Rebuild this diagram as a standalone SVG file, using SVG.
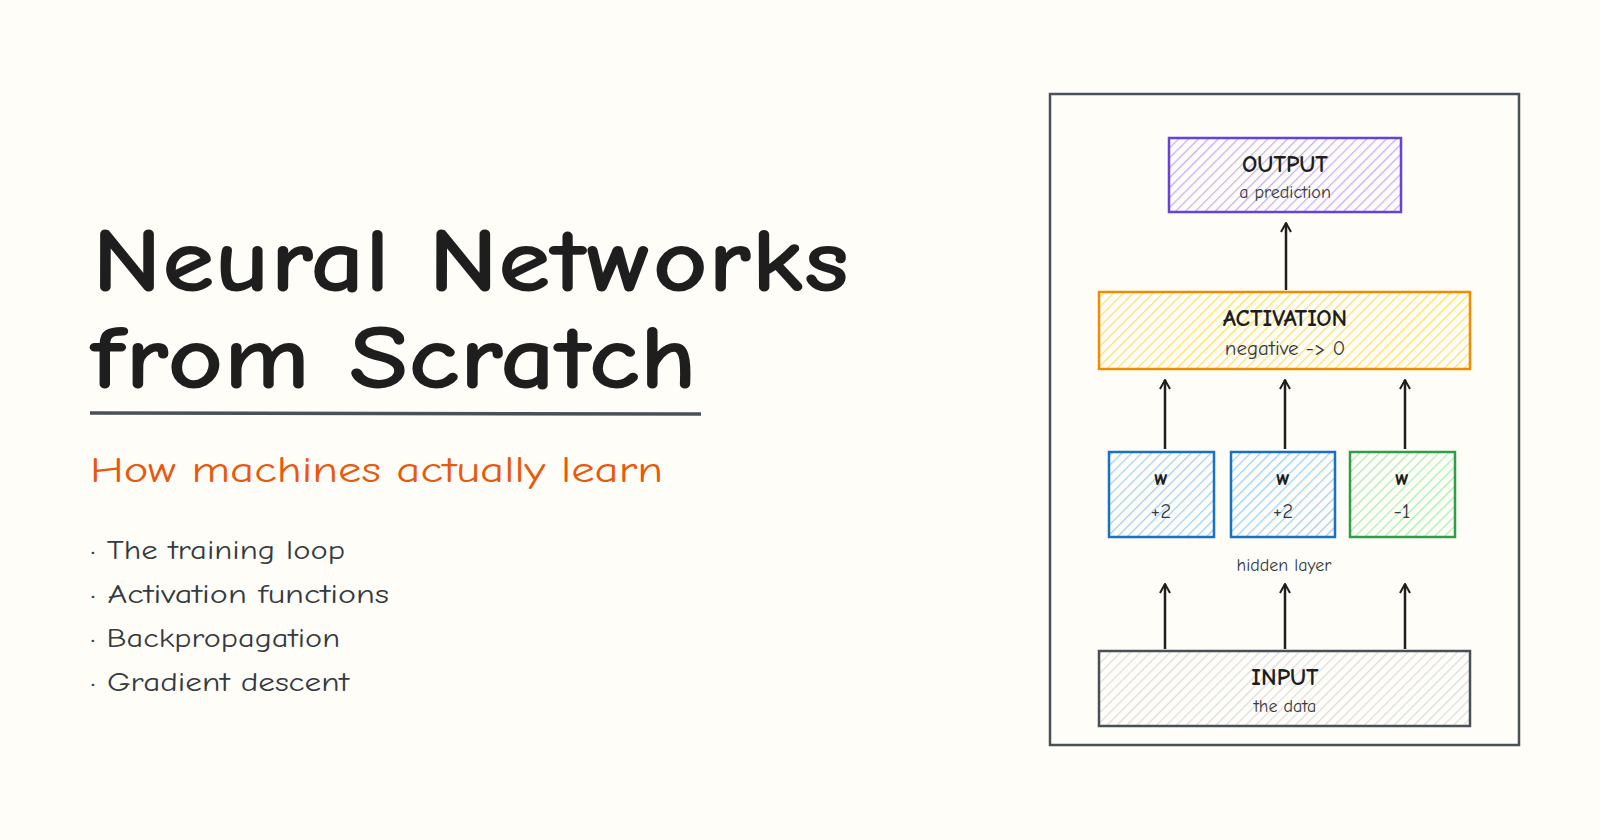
<svg xmlns="http://www.w3.org/2000/svg" width="1600" height="840" viewBox="0 0 1600 840">
<defs>
<pattern id="hp" width="7" height="7" patternUnits="userSpaceOnUse" patternTransform="rotate(45)"><line x1="0" y1="0" x2="0" y2="7" stroke="#c4adff" stroke-width="2.5"/></pattern>
<pattern id="ho" width="7" height="7" patternUnits="userSpaceOnUse" patternTransform="rotate(45)"><line x1="0" y1="0" x2="0" y2="7" stroke="#ffe066" stroke-width="2.5"/></pattern>
<pattern id="hb" width="7" height="7" patternUnits="userSpaceOnUse" patternTransform="rotate(45)"><line x1="0" y1="0" x2="0" y2="7" stroke="#99d0ff" stroke-width="2.5"/></pattern>
<pattern id="hg" width="7" height="7" patternUnits="userSpaceOnUse" patternTransform="rotate(45)"><line x1="0" y1="0" x2="0" y2="7" stroke="#a6eeb0" stroke-width="2.5"/></pattern>
<pattern id="hn" width="7" height="7" patternUnits="userSpaceOnUse" patternTransform="rotate(45)"><line x1="0" y1="0" x2="0" y2="7" stroke="#dadde0" stroke-width="2.5"/></pattern>
<marker id="ar" viewBox="0 0 12 12" refX="11" refY="6" markerWidth="12" markerHeight="12" markerUnits="userSpaceOnUse" orient="auto"><path d="M2 1 L11 6 L2 11" fill="none" stroke="#1e1e1e" stroke-width="2"/></marker>
</defs>
<style>
text{font-family:"Comic Neue","Noto Sans","Liberation Sans",sans-serif;fill:#1e1e1e}
.t{font-size:92px;font-weight:bold}
.h{font-size:24px;font-weight:bold;text-anchor:middle}
.w{font-size:22px;font-weight:bold;text-anchor:middle}
.s{font-size:18px;text-anchor:middle;fill:#343a40}
.n{font-size:21px;text-anchor:middle;fill:#343a40}
.b{font-size:26px;fill:#343a40}
.c{stroke:#1e1e1e;stroke-width:2.5;fill:none}
</style>
<rect width="1600" height="840" fill="#fffdf8"/>
<g id="title">
<text class="t" x="92" y="291" textLength="757" lengthAdjust="spacingAndGlyphs">Neural Networks</text>
<text class="t" x="90" y="388" textLength="607" lengthAdjust="spacingAndGlyphs">from Scratch</text>
<line x1="90" y1="413" x2="701" y2="414" stroke="#495057" stroke-width="3.5"/>
<text x="90" y="482" font-size="37" style="fill:#e8590c" textLength="573" lengthAdjust="spacingAndGlyphs">How machines actually learn</text>
</g>
<g id="bullets">
<text class="b" x="90" y="559" textLength="255" lengthAdjust="spacingAndGlyphs">· The training loop</text>
<text class="b" x="90" y="603" textLength="299" lengthAdjust="spacingAndGlyphs">· Activation functions</text>
<text class="b" x="90" y="647" textLength="250" lengthAdjust="spacingAndGlyphs">· Backpropagation</text>
<text class="b" x="90" y="691" textLength="259" lengthAdjust="spacingAndGlyphs">· Gradient descent</text>
</g>
<rect id="frame" x="1050" y="94" width="469" height="651" fill="none" stroke="#495057" stroke-width="2.5"/>
<g id="output"><rect x="1169" y="138" width="232" height="74" fill="url(#hp)" stroke="#6741d9" stroke-width="2.5"/>
<text class="h" x="1285" y="172">OUTPUT</text><text class="s" x="1285" y="198">a prediction</text></g>
<g id="activation"><rect x="1099" y="292" width="371" height="77" fill="url(#ho)" stroke="#f08c00" stroke-width="2.5"/>
<text class="h" x="1285" y="326">ACTIVATION</text><text class="n" x="1285" y="355">negative -&gt; 0</text></g>
<g id="w1"><rect x="1109" y="452" width="105" height="85" fill="url(#hb)" stroke="#1971c2" stroke-width="2.5"/><text class="w" x="1161" y="485">w</text><text class="n" x="1161" y="518">+2</text></g>
<g id="w2"><rect x="1231" y="452" width="104" height="85" fill="url(#hb)" stroke="#1971c2" stroke-width="2.5"/><text class="w" x="1283" y="485">w</text><text class="n" x="1283" y="518">+2</text></g>
<g id="w3"><rect x="1350" y="452" width="105" height="85" fill="url(#hg)" stroke="#2f9e44" stroke-width="2.5"/><text class="w" x="1402" y="485">w</text><text class="n" x="1402" y="518">-1</text></g>
<text class="s" x="1284" y="571">hidden layer</text>
<g id="input"><rect x="1099" y="651" width="371" height="75" fill="url(#hn)" stroke="#495057" stroke-width="2.5"/>
<text class="h" x="1285" y="685">INPUT</text><text class="s" x="1285" y="712">the data</text></g>
<g id="connectors">
<line class="c" x1="1286" y1="290" x2="1286" y2="223" marker-end="url(#ar)"/>
<line class="c" x1="1165" y1="449" x2="1165" y2="380" marker-end="url(#ar)"/>
<line class="c" x1="1285" y1="449" x2="1285" y2="380" marker-end="url(#ar)"/>
<line class="c" x1="1405" y1="449" x2="1405" y2="380" marker-end="url(#ar)"/>
<line class="c" x1="1165" y1="649" x2="1165" y2="584" marker-end="url(#ar)"/>
<line class="c" x1="1285" y1="649" x2="1285" y2="584" marker-end="url(#ar)"/>
<line class="c" x1="1405" y1="649" x2="1405" y2="584" marker-end="url(#ar)"/>
</g>
</svg>
